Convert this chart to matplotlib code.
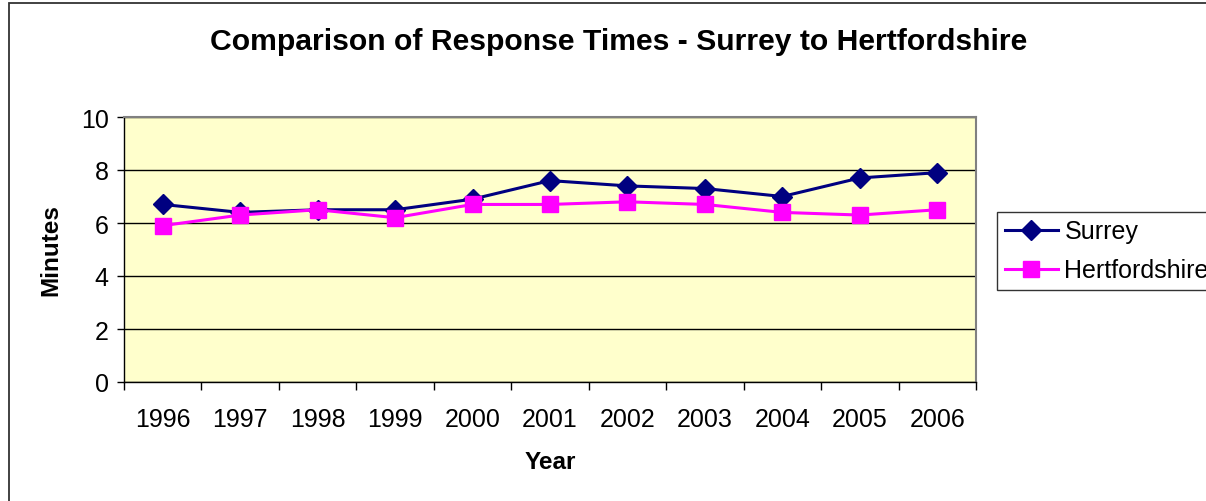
import matplotlib
matplotlib.use("Agg")
import matplotlib.pyplot as plt
from matplotlib.patches import Rectangle

years = ["1996", "1997", "1998", "1999", "2000", "2001", "2002", "2003", "2004", "2005", "2006"]
surrey = [6.7, 6.4, 6.5, 6.5, 6.9, 7.6, 7.4, 7.3, 7.0, 7.7, 7.9]
herts = [5.9, 6.3, 6.5, 6.2, 6.7, 6.7, 6.8, 6.7, 6.4, 6.3, 6.5]

plt.rcParams['font.family'] = ['Liberation Sans', 'DejaVu Sans']

W, H = 1206, 502
fig = plt.figure(figsize=(W / 100, H / 100), dpi=100)
fig.patch.set_facecolor('white')

# outer chart frame (right and bottom edges fall outside the image)
fig.patches.append(Rectangle((8.5 / W, -0.1), 1.2, 1 - 4 / H + 0.1, transform=fig.transFigure,
                             fill=False, edgecolor='#333333', linewidth=1.3, zorder=0))

L, R, T, B = 124, 976, 118, 383
ax = fig.add_axes([L / W, 1 - B / H, (R - L) / W, (B - T) / H])
ax.set_facecolor('#FFFFCC')

x = list(range(len(years)))
ax.plot(x, surrey, color='#000080', linewidth=2.2, marker='D', markersize=10,
        markerfacecolor='#000080', markeredgecolor='#000080', label='Surrey', zorder=3)
ax.plot(x, herts, color='#FF00FF', linewidth=2.2, marker='s', markersize=11,
        markerfacecolor='#FF00FF', markeredgecolor='#FF00FF', label='Hertfordshire', zorder=3)

ax.set_xlim(-0.5, len(years) - 0.5)
ax.set_ylim(0, 10)
ax.set_yticks([0, 2, 4, 6, 8, 10])
ax.yaxis.grid(True, color='black', linewidth=1)
ax.set_axisbelow(True)

ax.set_xticks(x)
ax.set_xticklabels(years, fontsize=18)
ax.tick_params(axis='x', which='major', length=0, pad=18)
ax.set_xticks([i - 0.5 for i in range(len(years) + 1)], minor=True)
ax.tick_params(axis='x', which='minor', length=6, width=1, direction='out', color='black')
ax.tick_params(axis='y', length=5, width=1, direction='out', labelsize=18, pad=6)

for s in ['top', 'right']:
    ax.spines[s].set_color('#808080')
    ax.spines[s].set_linewidth(1.5)
for s in ['left', 'bottom']:
    ax.spines[s].set_color('black')
    ax.spines[s].set_linewidth(1)

ax.set_xlabel('Year', fontsize=17.5, fontweight='bold', labelpad=14)
ax.set_ylabel('Minutes', fontsize=17.5, fontweight='bold', labelpad=13)

fig.text(0.5 * (211 + 1027) / W, 1 - 42 / H, 'Comparison of Response Times - Surrey to Hertfordshire',
         ha='center', va='center', fontsize=21.7, fontweight='bold')

leg = ax.legend(loc='upper left', bbox_to_anchor=(997 / W, 1 - 213 / H), bbox_transform=fig.transFigure,
                frameon=True, fancybox=False, fontsize=18, handlelength=2.15, borderpad=0.3,
                labelspacing=0.6, handletextpad=0.25, borderaxespad=0)
leg.get_frame().set_edgecolor('black')
leg.get_frame().set_linewidth(1)

fig.savefig('out.png', dpi=100)
